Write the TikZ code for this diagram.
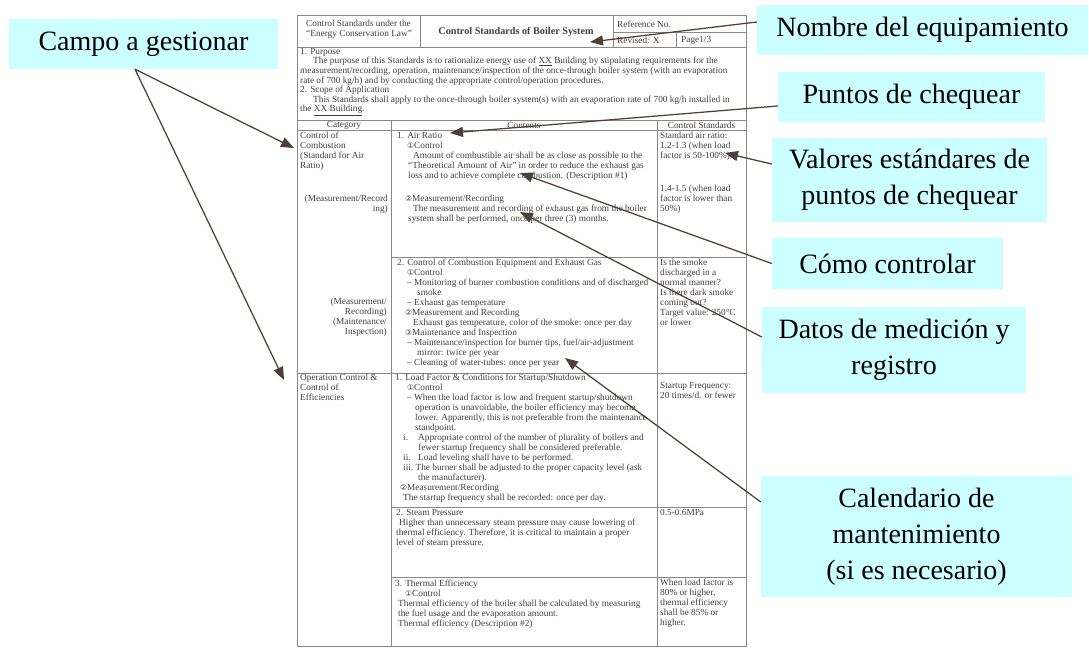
\documentclass[tikz,border=0pt]{standalone}
\usepackage{fontspec}
\setmainfont{Liberation Serif}
\newfontfamily\circfont{DejaVu Sans}
\usetikzlibrary{arrows.meta}

\definecolor{tagfill}{HTML}{CCFFFF}
\definecolor{pointercol}{HTML}{4D4039}
\definecolor{rulecol}{HTML}{888888}
\definecolor{inkcol}{HTML}{3F3F3F}

% circled item numbers taken from DejaVu Sans
\newcommand{\cn}[1]{{\circfont\fontsize{7.8}{10}\selectfont #1}}

\begin{document}
\begin{tikzpicture}[x=1pt,y=-1pt,
  tagbox/.style={fill=tagfill, inner sep=0pt, align=center,
    font=\fontsize{28}{36}\selectfont},
  pointerline/.style={draw=pointercol, line width=1.25pt,
    -{Triangle[length=13pt,width=10pt]}},
  ruling/.style={draw=rulecol, line width=1pt},
  doctext/.style={inner sep=0pt, anchor=north west, align=left, text=inkcol,
    font=\fontsize{9.3}{10}\selectfont},
  docright/.style={doctext, anchor=north east, align=right},
  doccenter/.style={inner sep=0pt, text=inkcol, font=\fontsize{9.3}{10}\selectfont},
]
\useasboundingbox (0,0) rectangle (1089,651);
\fill[white] (0,0) rectangle (1089,651);

% ---------------- the control-standards sheet ----------------
\draw[ruling] (297,15) rectangle (746,646);
\draw[ruling] (297,47) -- (746,47);
\draw[ruling] (420,15) -- (420,47);
\draw[ruling] (613,15) -- (613,47);
\draw[ruling] (613,32) -- (746,32);
\draw[ruling] (676,32) -- (676,47);
\draw[ruling] (297,120) -- (746,120);
\draw[ruling] (297,130) -- (746,130);
\draw[ruling] (391,120) -- (391,646);
\draw[ruling] (657,120) -- (657,646);
\draw[ruling] (391,257) -- (746,257);
\draw[ruling] (297,373) -- (746,373);
\draw[ruling] (391,507) -- (746,507);
\draw[ruling] (391,577) -- (746,577);

% header
\node[doctext] (hleft) at (306,20) {Control Standards under the\\“Energy Conservation Law”};
\node[doccenter, font=\fontsize{10.2}{12}\selectfont\bfseries] (htitle) at (516,32) {Control Standards of Boiler System};
\node[doccenter, anchor=west] (href) at (617,24) {Reference No.};
\node[doccenter, anchor=west] (hrev) at (617,40) {Revised: X};
\node[doccenter, anchor=west] (hpage) at (681,40) {Page1/3};

% purpose and scope
\node[doctext, font=\fontsize{9.3}{9.6}\selectfont] (purpose) at (300,48) {1. Purpose\\
\hspace*{13pt}The purpose of this Standards is to rationalize energy use of \underline{XX} Building by stipulating requirements for the\\
measurement/recording, operation, maintenance/inspection of the once-through boiler system (with an evaporation\\
rate of 700 kg/h) and by conducting the appropriate control/operation procedures.\\
2. Scope of Application\\
\hspace*{13pt}This Standards shall apply to the once-through boiler system(s) with an evaporation rate of 700 kg/h installed in\\
the \underline{XX Building}.};

% column heads
\node[doccenter] (hcat) at (344,125) {Category};
\node[doccenter] (hcon) at (524,125) {Contents};
\node[doccenter] (hstd) at (701.5,125) {Control Standards};

% row 1: air ratio
\node[doctext] (cat1) at (300,132) {Control of\\Combustion\\(Standard for Air\\Ratio)};
\node[docright] (cat1b) at (388,195) {(Measurement/Record\\ing)};
\node[doctext] (air) at (397,132) {1. Air Ratio\\
\hspace*{10pt}\cn{①}Control\\
\hspace*{16pt}Amount of combustible air shall be as close as possible to the\\
\hspace*{11pt}“Theoretical Amount of Air” in order to reduce the exhaust gas\\
\hspace*{11pt}loss and to achieve complete combustion. (Description \#1)};
\node[doctext] (airrec) at (397,195) {\hspace*{8pt}\cn{②}Measurement/Recording\\
\hspace*{16pt}The measurement and recording of exhaust gas from the boiler\\
\hspace*{11pt}system shall be performed, once per three (3) months.};
\node[doctext] (std1) at (660,132) {Standard air ratio:\\1.2-1.3 (when load\\factor is 50-100\%)};
\node[doctext] (std1b) at (660,185) {1.4-1.5 (when load\\factor is lower than\\50\%)};

% row 2: combustion equipment and exhaust gas
\node[docright] (cat2) at (387,298) {(Measurement/\\Recording)\\(Maintenance/\\Inspection)};
\node[doctext] (comb) at (397,259) {2. Control of Combustion Equipment and Exhaust Gas\\
\hspace*{10pt}\cn{①}Control\\
\hspace*{10pt}– Monitoring of burner combustion conditions and of discharged\\
\hspace*{20pt}smoke\\
\hspace*{10pt}– Exhaust gas temperature\\
\hspace*{8pt}\cn{②}Measurement and Recording\\
\hspace*{16pt}Exhaust gas temperature, color of the smoke: once per day\\
\hspace*{8pt}\cn{③}Maintenance and Inspection\\
\hspace*{10pt}– Maintenance/inspection for burner tips, fuel/air-adjustment\\
\hspace*{20pt}mirror: twice per year\\
\hspace*{10pt}– Cleaning of water-tubes: once per year};
\node[doctext] (std2) at (660,259) {Is the smoke\\discharged in a\\normal manner?\\Is there dark smoke\\coming out?\\Target value: 250°C\\or lower};

% row 3: load factor
\node[doctext] (cat3) at (300,374) {Operation Control \&\\Control of\\Efficiencies};
\node[doctext] (load) at (395,374) {1. Load Factor \& Conditions for Startup/Shutdown\\
\hspace*{12pt}\cn{①}Control\\
\hspace*{12pt}– When the load factor is low and frequent startup/shutdown\\
\hspace*{20pt}operation is unavoidable, the boiler efficiency may become\\
\hspace*{20pt}lower. Apparently, this is not preferable from the maintenance\\
\hspace*{20pt}standpoint.\\
\hspace*{8pt}\makebox[15pt][l]{i.}Appropriate control of the number of plurality of boilers and\\
\hspace*{23pt}fewer startup frequency shall be considered preferable.\\
\hspace*{8pt}\makebox[15pt][l]{ii.}Load leveling shall have to be performed.\\
\hspace*{8pt}iii.\ The burner shall be adjusted to the proper capacity level (ask\\
\hspace*{23pt}the manufacturer).\\
\hspace*{5pt}\cn{②}Measurement/Recording\\
\hspace*{8pt}The startup frequency shall be recorded: once per day.};
\node[doctext] (std3) at (660,382) {Startup Frequency:\\20 times/d. or fewer};

% row 4: steam pressure
\node[doctext] (steam) at (396,509) {2. Steam Pressure\\
\hspace*{3pt}Higher than unnecessary steam pressure may cause lowering of\\
thermal efficiency. Therefore, it is critical to maintain a proper\\
level of steam pressure.};
\node[doctext] (std4) at (660,509) {0.5-0.6MPa};

% row 5: thermal efficiency
\node[doctext] (therm) at (395,580) {3. Thermal Efficiency\\
\hspace*{10pt}\cn{①}Control\\
\hspace*{3pt}Thermal efficiency of the boiler shall be calculated by measuring\\
\hspace*{3pt}the fuel usage and the evaporation amount.\\
\hspace*{3pt}Thermal efficiency (Description \#2)};
\node[doctext] (std5) at (660,579) {When load factor is\\80\% or higher,\\thermal efficiency\\shall be 85\% or\\higher.};

% ---------------- explanatory tags ----------------
\node[tagbox, minimum width=269pt, minimum height=50pt] (campo) at (143.5,44) {Campo a gestionar};
\node[tagbox, minimum width=331pt, minimum height=50pt] (nombre) at (922.5,30) {Nombre del equipamiento};
\node[tagbox, minimum width=267pt, minimum height=50pt] (puntos) at (911.5,97) {Puntos de chequear};
\node[tagbox, minimum width=275pt, minimum height=84pt] (valores) at (909.5,180) {Valores estándares de\\puntos de chequear};
\node[tagbox, minimum width=231pt, minimum height=51pt] (como) at (887.5,263.5) {Cómo controlar};
\node[tagbox, minimum width=264pt, minimum height=86pt] (datos) at (894,350) {Datos de medición y\\registro};
\node[tagbox, minimum width=311pt, minimum height=121pt] (calendario) at (916.5,536.5) {Calendario de\\mantenimiento\\(si es necesario)};

% points on the sheet that the tags refer to
\coordinate (tipNombre) at (590,42);
\coordinate (tipPuntos) at (450,133);
\coordinate (tipValores) at (725,153);
\coordinate (tipComo) at (520,173);
\coordinate (tipDatos) at (520,212);
\coordinate (tipCal) at (565,358);
\coordinate (tipCampoA) at (294,148);
\coordinate (tipCampoB) at (284,380);

\draw[pointerline] ([xshift=-8.5pt]campo.south) -- (tipCampoA);
\draw[pointerline] ([xshift=-8.5pt]campo.south) -- (tipCampoB);
\draw[pointerline] ([yshift=8pt]nombre.west) -- (tipNombre);
\draw[pointerline] ([yshift=-9pt]puntos.west) -- (tipPuntos);
\draw[pointerline] ([yshift=16pt]valores.west) -- (tipValores);
\draw[pointerline] (como.west) -- (tipComo);
\draw[pointerline] ([yshift=13pt]datos.west) -- (tipDatos);
\draw[pointerline] ([yshift=34.5pt]calendario.west) -- (tipCal);
\end{tikzpicture}
\end{document}
